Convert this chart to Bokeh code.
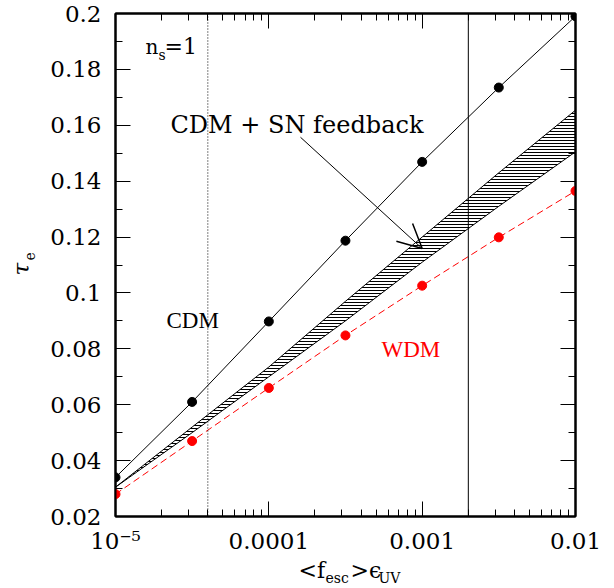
import math
from bokeh.plotting import figure
from bokeh.models import (Range1d, FixedTicker, LogAxis, LinearAxis, Span, Label,
                          Arrow, OpenHead, CustomJSTickFormatter)
from bokeh.layouts import row, column
from bokeh.embed import file_html
from bokeh.resources import INLINE

# ---------------- data ----------------
f_esc_eps = [1e-5, 3.16e-5, 1e-4, 3.16e-4, 1e-3, 3.16e-3, 1e-2]
tau_cdm = [0.034, 0.061, 0.0898, 0.1187, 0.1469, 0.1735, 0.1990]
tau_wdm = [0.028, 0.047, 0.0660, 0.0848, 0.1026, 0.1199, 0.1365]
tau_sn_low = [0.0305, 0.0500, 0.0700, 0.0900, 0.1110, 0.1310, 0.1505]
tau_sn_high = [0.0305, 0.0520, 0.0735, 0.0970, 0.1200, 0.1430, 0.1654]

x_major = [1e-5, 1e-4, 1e-3, 1e-2]
x_major_labels = ["10\u207b\u2075", "0.0001", "0.001", "0.01"]
x_minor = [m * d for d in (1e-5, 1e-4, 1e-3) for m in (2, 3, 4, 5, 6, 7, 8, 9)]
y_major = [0.02, 0.04, 0.06, 0.08, 0.10, 0.12, 0.14, 0.16, 0.18, 0.20]
y_major_labels = ["0.02", "0.04", "0.06", "0.08", "0.1", "0.12", "0.14", "0.16", "0.18", "0.2"]
y_minor = [0.03, 0.05, 0.07, 0.09, 0.11, 0.13, 0.15, 0.17, 0.19]

x_dotted_line = 4e-5
x_solid_line = 2e-3

# ---------------- layout ----------------
W, H = 614, 588
L, R, T, B = 115, 575, 13, 517          # frame, in page pixels
YLAB_W = 45                             # left strip holding the y title
XLAB_H = 32                             # bottom strip holding the x title
MAIN_W, MAIN_H = W - YLAB_W, H - XLAB_H
XMIN, XMAX, YMIN, YMAX = 1e-5, 1e-2, 0.02, 0.20
BASE_SHIFT = 0.3                        # Label baseline correction (em)

def dx(px):
    return 10 ** (math.log10(XMIN) + (px - L) / (R - L) * (math.log10(XMAX) - math.log10(XMIN)))

def dy(py):
    return YMIN + (B - py) / (B - T) * (YMAX - YMIN)

SERIF = "DejaVu Serif"

p = figure(width=MAIN_W, height=MAIN_H, x_axis_type="log",
           x_range=Range1d(XMIN, XMAX), y_range=Range1d(YMIN, YMAX),
           output_backend="svg", toolbar_location=None,
           min_border_left=L - YLAB_W, min_border_right=W - R,
           min_border_top=T, min_border_bottom=MAIN_H - B)
p.xgrid.visible = False
p.ygrid.visible = False
p.outline_line_color = "black"
p.outline_line_width = 2
p.background_fill_color = "white"
p.border_fill_color = "white"

xfmt = CustomJSTickFormatter(args=dict(vals=x_major, labs=x_major_labels), code="""
for (let i = 0; i < vals.length; i++) {
  if (Math.abs(Math.log10(tick) - Math.log10(vals[i])) < 1e-6) return labs[i];
}
return '';
""")
yfmt = CustomJSTickFormatter(args=dict(vals=y_major, labs=y_major_labels), code="""
for (let i = 0; i < vals.length; i++) {
  if (Math.abs(tick - vals[i]) < 1e-9) return labs[i];
}
return '';
""")
blank = CustomJSTickFormatter(code="return '';")

def style_axis(ax, show_labels):
    ax.axis_line_width = 2
    ax.axis_line_color = "black"
    ax.major_tick_in = 15
    ax.major_tick_out = 0
    ax.minor_tick_in = 7
    ax.minor_tick_out = 0
    ax.major_tick_line_color = "black"
    ax.minor_tick_line_color = "black"
    ax.major_tick_line_width = 1
    ax.minor_tick_line_width = 1
    if show_labels:
        ax.major_label_text_font = SERIF
        ax.major_label_text_font_size = "23px"
        ax.major_label_text_color = "black"
    else:
        ax.major_label_text_font_size = "1px"
        ax.major_label_standoff = 0

xt = FixedTicker(ticks=x_major, minor_ticks=x_minor)
yt = FixedTicker(ticks=y_major, minor_ticks=y_minor)

p.xaxis.ticker = xt
p.xaxis.formatter = xfmt
p.yaxis.ticker = yt
p.yaxis.formatter = yfmt
style_axis(p.xaxis[0], True)
style_axis(p.yaxis[0], True)
p.xaxis.major_label_standoff = 11
p.yaxis.major_label_standoff = 14

top = LogAxis(ticker=xt, formatter=blank)
style_axis(top, False)
p.add_layout(top, "above")
right = LinearAxis(ticker=yt, formatter=blank)
style_axis(right, False)
p.add_layout(right, "right")

# vertical reference lines
p.add_layout(Span(location=x_dotted_line, dimension="height", line_color="black",
                  line_width=1, line_dash="1 2"))
p.add_layout(Span(location=x_solid_line, dimension="height", line_color="black",
                  line_width=1))

# hatched SN-feedback band
p.varea(x=f_esc_eps, y1=tau_sn_low, y2=tau_sn_high, fill_color=None, fill_alpha=0,
        hatch_pattern="horizontal_line", hatch_scale=3, hatch_weight=1, hatch_color="black")
p.line(f_esc_eps, tau_sn_low, line_color="black", line_width=1)
p.line(f_esc_eps, tau_sn_high, line_color="black", line_width=1)

# CDM
p.line(f_esc_eps, tau_cdm, line_color="black", line_width=1)
p.scatter(f_esc_eps, tau_cdm, size=9, color="black")

# WDM
p.line(f_esc_eps, tau_wdm, line_color="#ff0000", line_width=1, line_dash="7 4")
p.scatter(f_esc_eps, tau_wdm, size=9, color="#ff0000")

# annotations (positions given in page pixels; baseline of the text)
def lab(fig, text, x, y, size, color="black", font=SERIF, angle=0.0, style="normal"):
    fig.add_layout(Label(x=x, y=y, text=text, text_font=font,
                         text_font_size=f"{size}px", text_color=color,
                         text_align="left", text_baseline="alphabetic",
                         angle=angle, text_font_style=style))

def plab(text, px, py, size, **kw):
    lab(p, text, dx(px), dy(py - BASE_SHIFT * size), size, **kw)

plab("n", 145, 53, 20)
plab("s", 158, 58.5, 14)
plab("=1", 164, 53, 22)
plab("CDM + SN feedback", 170, 132, 24)
plab("CDM", 166, 328, 23, font="Liberation Serif")
plab("WDM", 381, 357, 23, color="#ff0000", font="Liberation Serif")

p.add_layout(Arrow(end=OpenHead(size=24, line_width=1.5, line_color="black"),
                   x_start=dx(300), y_start=dy(137), x_end=dx(421.7), y_end=dy(248.5),
                   line_color="black", line_width=1))

# ---------------- title strips (ranges set to page pixels) ----------------
def strip(w, h, xr, yr):
    f = figure(width=w, height=h, x_range=Range1d(*xr), y_range=Range1d(*yr),
               output_backend="svg", toolbar_location=None,
               x_axis_location=None, y_axis_location=None,
               min_border=0, min_border_left=0, min_border_right=0,
               min_border_top=0, min_border_bottom=0)
    f.xgrid.visible = False
    f.ygrid.visible = False
    f.outline_line_color = None
    f.background_fill_color = "white"
    f.border_fill_color = "white"
    return f

# bottom strip: its frame lines up with the main frame horizontally (x 115..575)
xl = strip(MAIN_W, XLAB_H, (L, R), (H, MAIN_H))
def xlab(text, px, py, size, **kw):
    lab(xl, text, px, py - BASE_SHIFT * size, size, **kw)
xlab("<f", 298, 577, 22)
xlab("esc", 325, 582, 14)
xlab(">\u03f5", 350, 577, 22)
xlab("UV", 378, 582, 14)

# left strip: page x 0..45, y 0..588
yl = strip(YLAB_W, H, (0, YLAB_W), (H, 0))
def ylab(text, px, py, size, **kw):
    lab(yl, text, px - BASE_SHIFT * size, py, size, angle=math.pi / 2, **kw)
ylab("\u03c4", 27, 275, 23, style="italic")
ylab("e", 33, 260, 14)

layout = row(yl, column(p, xl, spacing=0), spacing=0)
open("out.html", "w").write(file_html(layout, INLINE))
